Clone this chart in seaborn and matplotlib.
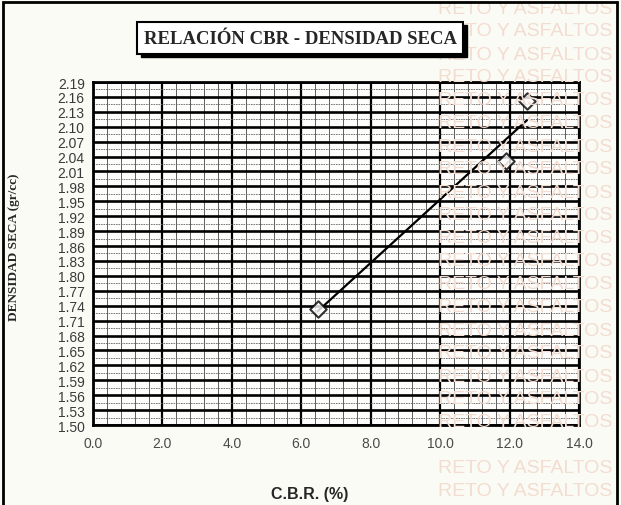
import numpy as np
import matplotlib
matplotlib.use("Agg")
import matplotlib.pyplot as plt
from matplotlib.patches import Rectangle
from matplotlib.ticker import MultipleLocator
import seaborn as sns

# data
cbr = [6.47, 11.89, 12.50]
densidad = [1.733, 2.031, 2.152]

x_ticks = [0.0, 2.0, 4.0, 6.0, 8.0, 10.0, 12.0, 14.0]
y_ticks = [1.50, 1.53, 1.56, 1.59, 1.62, 1.65, 1.68, 1.71, 1.74, 1.77, 1.80, 1.83,
           1.86, 1.89, 1.92, 1.95, 1.98, 2.01, 2.04, 2.07, 2.10, 2.13, 2.16, 2.19]

titulo = "RELACIÓN CBR - DENSIDAD SECA"
marca_agua = "RETO Y ASFALTOS"

sns.set_style("white")
plt.rcParams['font.family'] = ['Liberation Sans', 'DejaVu Sans']

W, H = 621, 506
fig = plt.figure(figsize=(W / 100, H / 100), dpi=100)
fig.patch.set_facecolor('#fbfbf5')

# faint watermark from the scanned sheet (row behind the x tick labels left out)
for i in range(22):
    yy = 9 + 23 * i
    if 430 < yy < 455:
        continue
    fig.text(612 / W, 1 - yy / H, marca_agua, ha='right', va='center',
             fontsize=14, color='#f3dcd0', zorder=0)

ax = fig.add_axes([93 / W, 1 - 426 / H, 486 / W, 343 / H])
ax.set_facecolor((1, 1, 1, 0.7))

sns.regplot(x=cbr, y=densidad, ax=ax, ci=None, marker='D', color='black',
            scatter_kws={'s': 70, 'facecolors': 'white', 'edgecolors': 'black',
                         'linewidths': 1.5, 'zorder': 5},
            line_kws={'lw': 1.6, 'zorder': 4})

ax.set_xlim(0, 14)
ax.set_ylim(1.50, 2.19)
ax.set_xticks(x_ticks)
ax.set_xticklabels([f"{v:.1f}" for v in x_ticks])
ax.set_yticks(y_ticks)
ax.set_yticklabels([f"{v:.2f}" for v in y_ticks])
ax.xaxis.set_minor_locator(MultipleLocator(0.4))
ax.yaxis.set_minor_locator(MultipleLocator(0.015))

ax.grid(which='major', axis='x', color='black', lw=1.6)
ax.grid(which='major', axis='y', color='black', lw=1.9)
ax.grid(which='minor', axis='x', color='#444444', lw=0.6)
ax.grid(which='minor', axis='y', color='#666666', lw=0.6, ls=(0, (2, 1)))
ax.set_axisbelow(True)

ax.tick_params(axis='y', which='major', length=5, width=1, color='#444444',
               labelsize=10, labelcolor='#3a3a3a', pad=1)
ax.tick_params(axis='x', which='major', length=0, labelsize=10,
               labelcolor='#4a4a4a', pad=8)
ax.tick_params(which='minor', length=0)
for s in ax.spines.values():
    s.set_color('black')
    s.set_linewidth(2)

ax.set_xlabel("C.B.R. (%)", fontsize=11.5, fontweight='bold')
ax.set_ylabel("DENSIDAD SECA (gr/cc)", fontsize=9.5, fontweight='bold',
              family=['Liberation Serif', 'DejaVu Serif'])
ax.xaxis.set_label_coords((310 - 93) / 486, -(487 - 426) / 343)
ax.yaxis.set_label_coords(-(93 - 20) / 486, (426 - 247) / 343)

# title box with shadow
fig.patches.append(Rectangle((141 / W, 1 - 58 / H), 326 / W, 32 / H,
                             transform=fig.transFigure, color='black', zorder=2))
fig.patches.append(Rectangle((137 / W, 1 - 55 / H), 326 / W, 32 / H,
                             transform=fig.transFigure, facecolor='white',
                             edgecolor='black', lw=1.5, zorder=3))
fig.text(300 / W, 1 - 40 / H, titulo, ha='center', va='center', fontsize=13.5,
         fontweight='bold', family=['Liberation Serif', 'DejaVu Serif'], zorder=4)

# outer frame of the sheet
fig.patches.append(Rectangle((3 / W, -0.05), 614 / W, 1 - 3 / H + 0.05,
                             transform=fig.transFigure, fill=False,
                             edgecolor='black', lw=2, zorder=5))

fig.savefig("out.png", dpi=100, facecolor=fig.get_facecolor())
